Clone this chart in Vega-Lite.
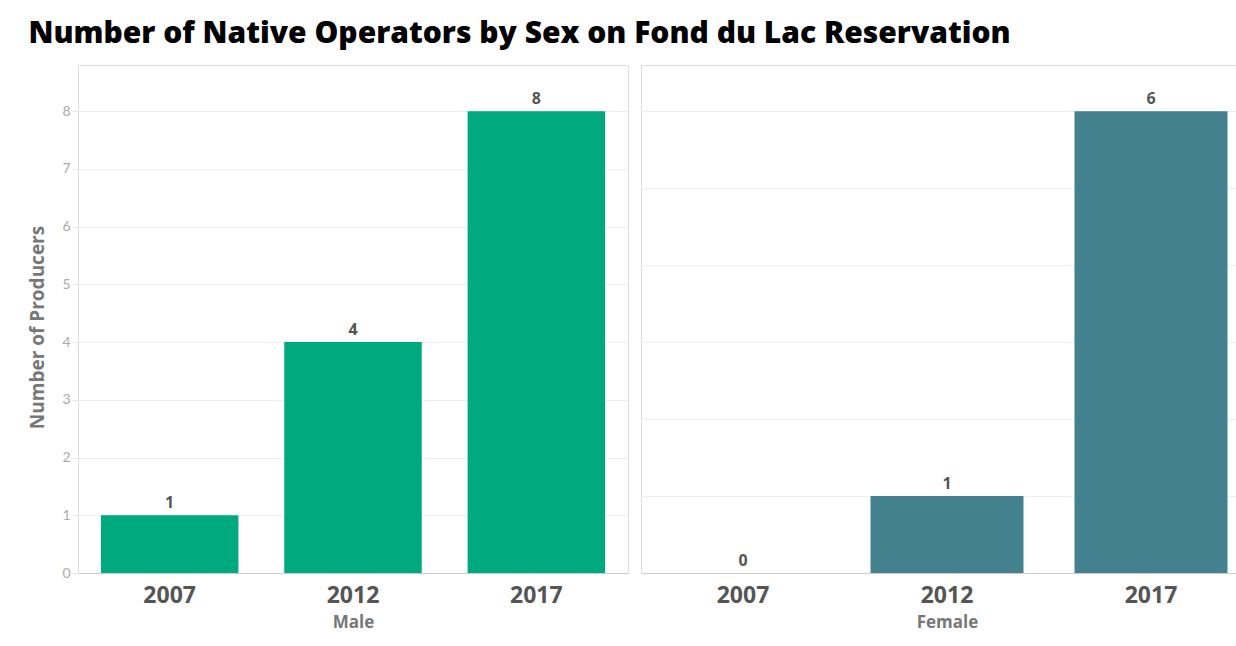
{
  "$schema": "https://vega.github.io/schema/vega-lite/v6.json",
  "padding": {"left": 28, "top": 18, "right": 0, "bottom": 10},
  "background": "white",
  "title": {
    "text": "Number of Native Operators by Sex on Fond du Lac Reservation",
    "anchor": "start",
    "font": "Open Sans",
    "fontSize": 30,
    "fontWeight": 800,
    "color": "#000000",
    "offset": 16
  },
  "data": {
    "values": [
      {"sex": "Male", "year": "2007", "count": 1},
      {"sex": "Male", "year": "2012", "count": 4},
      {"sex": "Male", "year": "2017", "count": 8},
      {"sex": "Female", "year": "2007", "count": 0},
      {"sex": "Female", "year": "2012", "count": 1},
      {"sex": "Female", "year": "2017", "count": 6}
    ]
  },
  "spacing": 11,
  "hconcat": [
    {
      "width": 550,
      "height": 508,
      "transform": [{"filter": "datum.sex === 'Male'"}],
      "encoding": {
        "x": {
          "field": "year", "type": "nominal",
          "scale": {"paddingInner": 0.25, "paddingOuter": 0.125},
          "axis": {"title": "Male", "labelAngle": 0}
        },
        "y": {
          "field": "count", "type": "quantitative",
          "scale": {"domain": [0, 8.8], "nice": false, "zero": true},
          "axis": {"title": "Number of Producers", "values": [0,1,2,3,4,5,6,7,8], "grid": true, "titleY": 262}
        }
      },
      "layer": [
        {"mark": {"type": "bar", "color": "#00A97E"}},
        {"mark": {"type": "text", "baseline": "bottom", "dy": -4, "font": "Open Sans", "fontWeight": "bold", "fontSize": 16, "color": "#555555"},
         "encoding": {"text": {"field": "count", "type": "quantitative"}}}
      ]
    },
    {
      "width": 612,
      "height": 508,
      "transform": [{"filter": "datum.sex === 'Female'"}],
      "encoding": {
        "x": {
          "field": "year", "type": "nominal",
          "scale": {"paddingInner": 0.25, "paddingOuter": 0.125},
          "axis": {"title": "Female", "labelAngle": 0}
        },
        "y": {
          "field": "count", "type": "quantitative",
          "scale": {"domain": [0, 6.6], "nice": false, "zero": true},
          "axis": {"title": null, "values": [0,1,2,3,4,5,6], "labels": false, "ticks": false, "domain": false, "grid": true}
        }
      },
      "layer": [
        {"mark": {"type": "bar", "color": "#44818F"}},
        {"mark": {"type": "text", "baseline": "bottom", "dy": -4, "font": "Open Sans", "fontWeight": "bold", "fontSize": 16, "color": "#555555"},
         "encoding": {"text": {"field": "count", "type": "quantitative"}}}
      ]
    }
  ],
  "resolve": {"scale": {"y": "independent"}},
  "config": {
    "view": {"stroke": "#dddddd", "strokeWidth": 1},
    "axisX": {
      "labelFont": "Open Sans", "labelFontSize": 23, "labelFontWeight": "bold", "labelColor": "#555555",
      "labelPadding": 11, "ticks": false, "domainColor": "#cccccc",
      "titleFont": "Open Sans", "titleFontSize": 17, "titleFontWeight": "bold", "titleColor": "#777777", "titlePadding": 7
    },
    "axisY": {
      "labelFont": "Lato", "labelFontSize": 14, "labelFontWeight": "normal", "labelColor": "#aaaaaa",
      "labelPadding": 2, "tickColor": "#e6e6e6", "tickSize": 6, "domain": false,
      "gridColor": "#eeeeee",
      "titleFont": "Open Sans", "titleFontSize": 19, "titleFontWeight": "bold", "titleColor": "#777777", "titlePadding": 14
    }
  }
}
